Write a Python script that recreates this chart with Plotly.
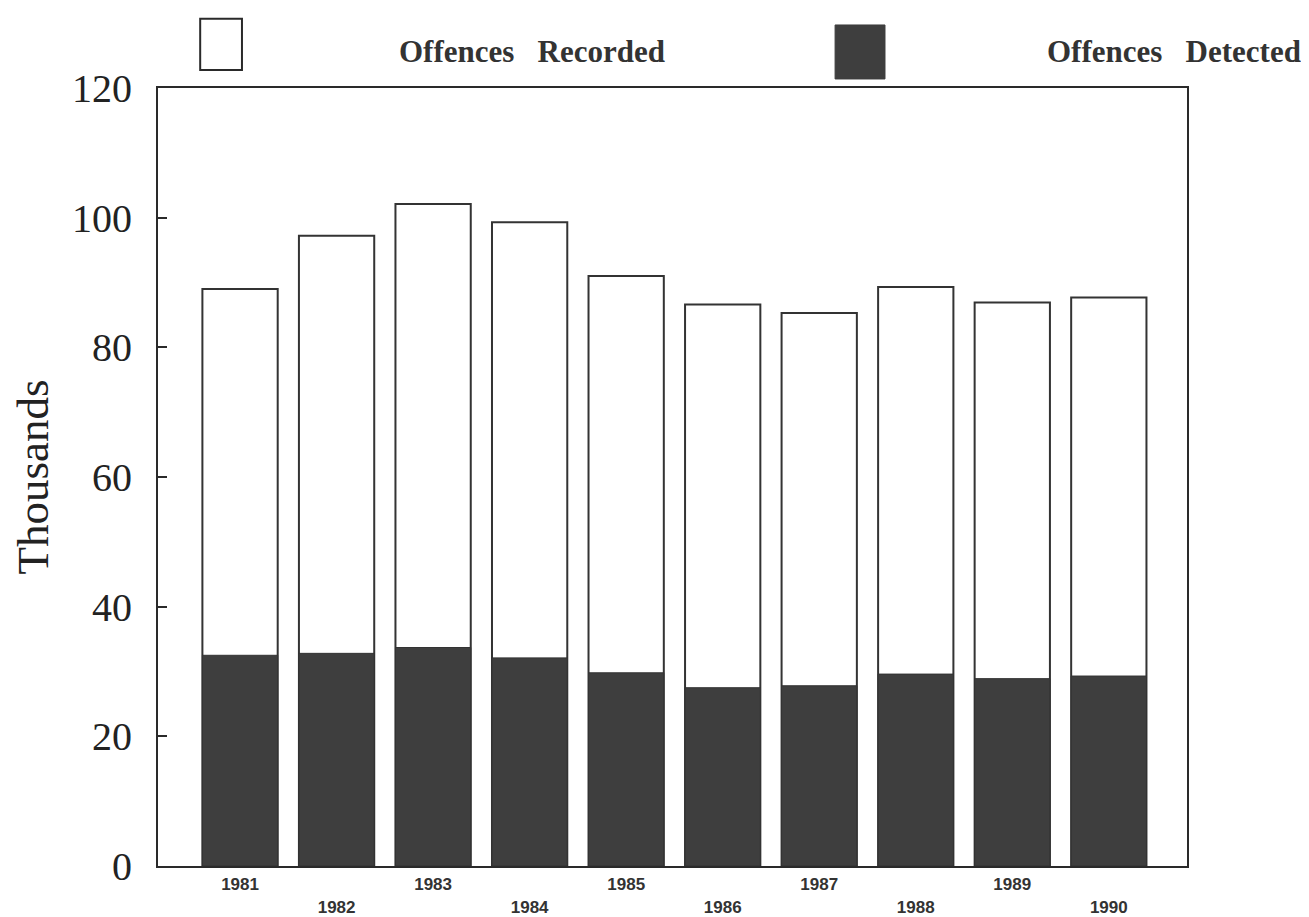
import plotly.graph_objects as go

years = ["1981", "1982", "1983", "1984", "1985", "1986", "1987", "1988", "1989", "1990"]
recorded = [89.0, 97.2, 102.1, 99.3, 91.0, 86.6, 85.3, 89.3, 86.9, 87.7]
detected = [32.5, 32.8, 33.7, 32.1, 29.8, 27.5, 27.8, 29.6, 28.9, 29.3]
y_ticks = [0, 20, 40, 60, 80, 100, 120]

x_idx = list(range(len(years)))
tick_text = [y if i % 2 == 0 else "<br>" + y for i, y in enumerate(years)]

fig = go.Figure()
fig.add_trace(go.Bar(
    x=x_idx, y=recorded, name="Offences Recorded", width=0.78,
    marker=dict(color="white", line=dict(color="#333333", width=2)),
))
fig.add_trace(go.Bar(
    x=x_idx, y=detected, name="Offences Detected", width=0.78,
    marker=dict(color="#3e3e3e", line=dict(color="#333333", width=1)),
))

serif = "Liberation Serif, Times New Roman, serif"

# page body has an 8px margin, so the figure is placed 8px in from the top-left
W, H = 1301, 909
fig.update_layout(
    width=W, height=H,
    margin=dict(l=150, r=122, t=80, b=51),
    paper_bgcolor="white", plot_bgcolor="white",
    barmode="overlay", showlegend=False,
    xaxis=dict(
        range=[-0.85, 9.81], tickmode="array", tickvals=x_idx, ticktext=tick_text,
        showgrid=False, zeroline=False, showline=True, linecolor="#2a2a2a", linewidth=2,
        mirror=True, ticks="", ticklabelstandoff=2, automargin=False,
        tickfont=dict(family="Liberation Sans, Arial, sans-serif", size=17, color="#333333", weight="bold"),
    ),
    yaxis=dict(
        range=[0, 120], tickmode="array", tickvals=y_ticks,
        showgrid=False, zeroline=False, showline=True, linecolor="#2a2a2a", linewidth=2,
        mirror=True, ticks="inside", ticklen=9, tickwidth=2, tickcolor="#2a2a2a",
        ticklabelstandoff=16, automargin=False,
        tickfont=dict(family=serif, size=40, color="#222222"),
        title=dict(text="Thousands", font=dict(family=serif, size=45, color="#222222"), standoff=18),
    ),
)

# legend drawn at top (paper coords relative to plot area 1029 x 778)
fig.add_shape(type="rect", xref="paper", yref="paper", x0=0.041, x1=0.0816, y0=1.023, y1=1.089,
              line=dict(color="#2a2a2a", width=2), fillcolor="white")
fig.add_shape(type="rect", xref="paper", yref="paper", x0=0.658, x1=0.7065, y0=1.0116, y1=1.081,
              line=dict(color="#3e3e3e", width=1), fillcolor="#3e3e3e")
fig.add_annotation(text="Offences   Recorded", xref="paper", yref="paper", x=0.2323, y=1.047,
                   xanchor="left", yanchor="middle", showarrow=False,
                   font=dict(family=serif, size=31, color="#333333", weight="bold"))
fig.add_annotation(text="Offences   Detected", xref="paper", yref="paper", x=0.862, y=1.047,
                   xanchor="left", yanchor="middle", showarrow=False,
                   font=dict(family=serif, size=31, color="#333333", weight="bold"))

fig.write_html("out.html")
